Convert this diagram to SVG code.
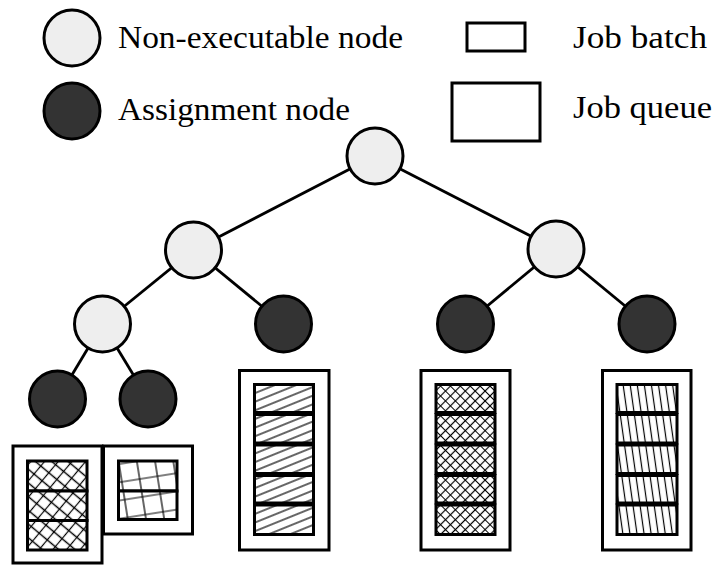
<svg xmlns="http://www.w3.org/2000/svg" width="715" height="565" viewBox="0 0 715 565">
<style>
.light{fill:#eeeeee;stroke:#000;stroke-width:3}
.dark{fill:#333333;stroke:#000;stroke-width:3}
.edge{stroke:#000;stroke-width:2.8;fill:none}
.queue{fill:#fff;stroke:#000;stroke-width:3}
.batch{stroke:#000;stroke-width:3}
.lbl{font-family:"Liberation Serif","DejaVu Serif",serif;font-size:31px;fill:#000}
.hl{stroke:#000;stroke-width:1.2;fill:none}
</style>
<defs>
<pattern id="pA" width="10.5" height="10.5" patternUnits="userSpaceOnUse" patternTransform="rotate(40)">
<rect width="10.5" height="10.5" fill="#fff"/><path class="hl" d="M0 5.25H10.5M5.25 0V10.5"/>
</pattern>
<pattern id="pB" width="18" height="18" patternUnits="userSpaceOnUse" patternTransform="rotate(-9)">
<rect width="18" height="18" fill="#fff"/><path class="hl" d="M0 9H18M9 0V18"/>
</pattern>
<pattern id="pC" width="8" height="8" patternUnits="userSpaceOnUse" patternTransform="rotate(-22)">
<rect width="8" height="8" fill="#fff"/><path class="hl" d="M0 4H8"/>
</pattern>
<pattern id="pD" width="7" height="7" patternUnits="userSpaceOnUse" patternTransform="rotate(45)">
<rect width="7" height="7" fill="#fff"/><path class="hl" d="M0 3.5H7M3.5 0V7"/>
</pattern>
<pattern id="pE" width="7" height="7" patternUnits="userSpaceOnUse" patternTransform="rotate(-8)">
<rect width="7" height="7" fill="#fff"/><path class="hl" d="M3.5 0V7"/>
</pattern>
</defs>
<rect width="715" height="565" fill="#fff"/>

<g id="legend">
<g id="legend-nonexec"><circle class="light" cx="72" cy="38" r="28"/><text class="lbl" x="118" y="48" textLength="285" lengthAdjust="spacingAndGlyphs">Non-executable node</text></g>
<g id="legend-assign"><circle class="dark" cx="72" cy="111" r="28"/><text class="lbl" x="118" y="120" textLength="232" lengthAdjust="spacingAndGlyphs">Assignment node</text></g>
<g id="legend-batch"><rect class="queue" x="467" y="23" width="58" height="28"/><text class="lbl" x="573" y="48" textLength="134" lengthAdjust="spacingAndGlyphs">Job batch</text></g>
<g id="legend-queue"><rect class="queue" x="452" y="83" width="88" height="58"/><text class="lbl" x="573" y="118" textLength="139" lengthAdjust="spacingAndGlyphs">Job queue</text></g>
</g>

<g id="connectors">
<line class="edge" x1="375" y1="156" x2="193.5" y2="250"/>
<line class="edge" x1="375" y1="156" x2="556" y2="249"/>
<line class="edge" x1="193.5" y1="250" x2="102.5" y2="324"/>
<line class="edge" x1="193.5" y1="250" x2="283.5" y2="324"/>
<line class="edge" x1="556" y1="249" x2="465.5" y2="324"/>
<line class="edge" x1="556" y1="249" x2="647" y2="324"/>
<line class="edge" x1="102.5" y1="324" x2="57.5" y2="399"/>
<line class="edge" x1="102.5" y1="324" x2="148" y2="399"/>
</g>

<g id="n-root"><circle class="light" cx="375" cy="156" r="28"/></g>
<g id="n-l"><circle class="light" cx="193.5" cy="250" r="28"/></g>
<g id="n-r"><circle class="light" cx="556" cy="249" r="28"/></g>
<g id="n-ll"><circle class="light" cx="102.5" cy="324" r="28"/></g>
<g id="n-lr"><circle class="dark" cx="283.5" cy="324" r="28"/></g>
<g id="n-rl"><circle class="dark" cx="465.5" cy="324" r="28"/></g>
<g id="n-rr"><circle class="dark" cx="647" cy="324" r="28"/></g>
<g id="n-lll"><circle class="dark" cx="57.5" cy="399" r="28"/></g>
<g id="n-llr"><circle class="dark" cx="148" cy="399" r="28"/></g>

<g id="q-lll">
<rect class="queue" x="13" y="446" width="89" height="117"/>
<rect class="batch" fill="url(#pA)" x="27.5" y="461" width="59.5" height="30"/>
<rect class="batch" fill="url(#pA)" x="27.5" y="491" width="59.5" height="29.5"/>
<rect class="batch" fill="url(#pA)" x="27.5" y="520.5" width="59.5" height="29.5"/>
</g>
<g id="q-llr">
<rect class="queue" x="103.5" y="446" width="89" height="88"/>
<rect class="batch" fill="url(#pB)" x="118.5" y="461" width="58.5" height="30"/>
<rect class="batch" fill="url(#pB)" x="118.5" y="491" width="58.5" height="28.5"/>
</g>
<g id="q-lr">
<rect class="queue" x="239.5" y="370.5" width="89.5" height="179.5"/>
<rect class="batch" fill="url(#pC)" x="254.5" y="384.5" width="59" height="28"/>
<rect class="batch" fill="url(#pC)" x="254.5" y="414.5" width="59" height="28.5"/>
<rect class="batch" fill="url(#pC)" x="254.5" y="445" width="59" height="28.5"/>
<rect class="batch" fill="url(#pC)" x="254.5" y="475.5" width="59" height="27.5"/>
<rect class="batch" fill="url(#pC)" x="254.5" y="505" width="59" height="29.5"/>
</g>
<g id="q-rl">
<rect class="queue" x="421" y="370.5" width="89" height="179.5"/>
<rect class="batch" fill="url(#pD)" x="436" y="384.5" width="59" height="28"/>
<rect class="batch" fill="url(#pD)" x="436" y="414.5" width="59" height="28.5"/>
<rect class="batch" fill="url(#pD)" x="436" y="445" width="59" height="28.5"/>
<rect class="batch" fill="url(#pD)" x="436" y="475.5" width="59" height="27.5"/>
<rect class="batch" fill="url(#pD)" x="436" y="505" width="59" height="29.5"/>
</g>
<g id="q-rr">
<rect class="queue" x="602.5" y="370.5" width="88.5" height="179.5"/>
<rect class="batch" fill="url(#pE)" x="617" y="384.5" width="60" height="28"/>
<rect class="batch" fill="url(#pE)" x="617" y="414.5" width="60" height="28.5"/>
<rect class="batch" fill="url(#pE)" x="617" y="445" width="60" height="28.5"/>
<rect class="batch" fill="url(#pE)" x="617" y="475.5" width="60" height="27.5"/>
<rect class="batch" fill="url(#pE)" x="617" y="505" width="60" height="29.5"/>
</g>
</svg>
